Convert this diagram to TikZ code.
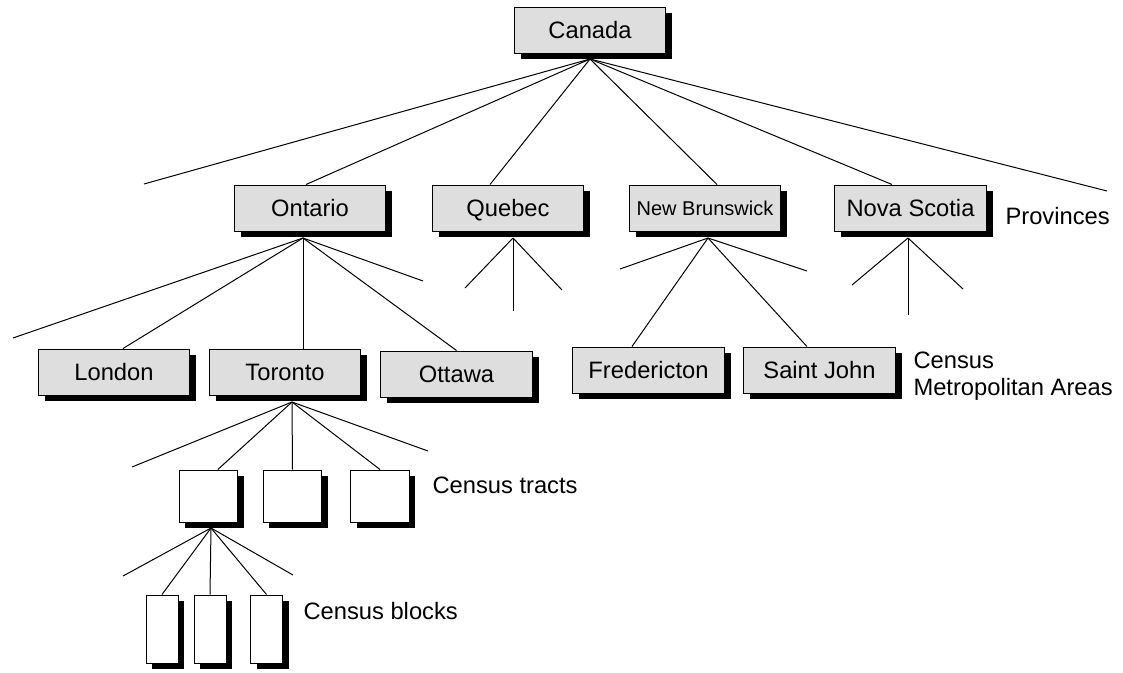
\documentclass[tikz,border=0pt]{standalone}
\usepackage{fontspec}
\setmainfont{Liberation Sans}
\usetikzlibrary{shadows}
\definecolor{boxgray}{RGB}{222,222,222}

\begin{document}
\begin{tikzpicture}[x=0.75pt, y=-0.75pt, line width=0.75pt]
  \tikzset{
    gray_node/.style={rectangle, fill=boxgray, draw, line width=0.75pt, inner sep=0pt, minimum width=113.5pt, minimum height=34.5pt, text height=12.7pt, text depth=0pt, font=\fontsize{17.8}{21}\selectfont, drop shadow={shadow xshift=4.8pt, shadow yshift=-4.8pt, opacity=1, fill=black}},
    tract_node/.style={rectangle, fill=white, draw, line width=0.75pt, inner sep=0pt, minimum width=44pt, minimum height=39pt, drop shadow={shadow xshift=4.5pt, shadow yshift=-4.5pt, opacity=1, fill=black}},
    block_node/.style={rectangle, fill=white, draw, line width=0.75pt, inner sep=0pt, minimum width=24pt, minimum height=51pt, drop shadow={shadow xshift=4.5pt, shadow yshift=-4.5pt, opacity=1, fill=black}},
    level_label/.style={anchor=west, align=left, inner sep=0pt, font=\fontsize{17.8}{20.25}\selectfont}
  }
  \useasboundingbox (0,0) rectangle (1123,672);

  % Nivel del país
  \node[gray_node] (canada) at (590,30) {Canada};

  % Provincias
  \node[gray_node] (ontario) at (310,208) {Ontario};
  \node[gray_node] (quebec) at (508,208) {Quebec};
  \node[gray_node, font=\fontsize{15}{18}\selectfont, text height=10.7pt] (nb) at (705,208) {New Brunswick};
  \node[gray_node] (ns) at (910.5,208) {Nova Scotia};

  % Áreas metropolitanas
  \node[gray_node] (london) at (114,372) {London};
  \node[gray_node] (toronto) at (285,372) {Toronto};
  \node[gray_node] (ottawa) at (456.5,374) {Ottawa};
  \node[gray_node] (fredericton) at (648.5,370) {Fredericton};
  \node[gray_node] (saintjohn) at (819.5,370) {Saint John};

  % Sectores censales (cajas vacías)
  \node[tract_node] (tract1) at (208.5,496) {};
  \node[tract_node] (tract2) at (292.5,496) {};
  \node[tract_node] (tract3) at (380,496) {};

  % Manzanas censales
  \node[block_node] (block1) at (162,629) {};
  \node[block_node] (block2) at (210,629) {};
  \node[block_node] (block3) at (266.5,629) {};

  % Etiquetas de nivel
  \node[level_label] (prov_lbl) at (1005,216) {Provinces};
  \node[level_label] (cma_lbl) at (913,376) {Census\\Metropolitan Areas};
  \node[level_label] (tract_lbl) at (432,485) {Census tracts};
  \node[level_label] (block_lbl) at (303,611) {Census blocks};

  % Puntos de salida de los abanicos
  \coordinate (canada_f) at (590,59);
  \coordinate (ontario_f) at (303,238);
  \coordinate (quebec_f) at (513,238);
  \coordinate (nb_f) at (708,238);
  \coordinate (ns_f) at (908,238);
  \coordinate (toronto_f) at (292,402);
  \coordinate (tract_f) at (211,528);

  % Extremos libres
  \coordinate (canada_l) at (144,184);
  \coordinate (canada_r) at (1107,191);
  \coordinate (ontario_l) at (13,338);
  \coordinate (ontario_r) at (423,281);
  \coordinate (quebec_l) at (465,288);
  \coordinate (quebec_m) at (513,311);
  \coordinate (quebec_r) at (562,290);
  \coordinate (nb_l) at (620,269);
  \coordinate (nb_r) at (807,271);
  \coordinate (ns_l) at (852,285);
  \coordinate (ns_m) at (908,315);
  \coordinate (ns_r) at (963,289);
  \coordinate (toronto_l) at (132,467);
  \coordinate (toronto_r) at (428,451);
  \coordinate (tract_l) at (123,576);
  \coordinate (tract_r) at (293,575);

  % Aristas desde Canada
  \draw (canada_f) -- (canada_l);
  \draw (canada_f) -- ([xshift=-3pt]ontario.north);
  \draw (canada_f) -- ([xshift=-13.5pt]quebec.north);
  \draw (canada_f) -- ([xshift=9pt]nb.north);
  \draw (canada_f) -- ([xshift=-13.9pt]ns.north);
  \draw (canada_f) -- (canada_r);

  % Aristas desde Ontario
  \draw (ontario_f) -- (ontario_l);
  \draw (ontario_f) -- ([xshift=6.75pt]london.north);
  \draw (ontario_f) -- ([xshift=13.5pt]toronto.north);
  \draw (ontario_f) -- (ottawa.north);
  \draw (ontario_f) -- (ontario_r);

  % Aristas desde Quebec
  \draw (quebec_f) -- (quebec_l);
  \draw (quebec_f) -- (quebec_m);
  \draw (quebec_f) -- (quebec_r);

  % Aristas desde New Brunswick
  \draw (nb_f) -- (nb_l);
  \draw (nb_f) -- ([xshift=-12.4pt]fredericton.north);
  \draw (nb_f) -- ([xshift=-9.4pt]saintjohn.north);
  \draw (nb_f) -- (nb_r);

  % Aristas desde Nova Scotia
  \draw (ns_f) -- (ns_l);
  \draw (ns_f) -- (ns_m);
  \draw (ns_f) -- (ns_r);

  % Aristas desde Toronto
  \draw (toronto_f) -- (toronto_l);
  \draw (toronto_f) -- ([xshift=7pt]tract1.north);
  \draw (toronto_f) -- (tract2.north);
  \draw (toronto_f) -- (tract3.north);
  \draw (toronto_f) -- (toronto_r);

  % Aristas desde el primer sector
  \draw (tract_f) -- (tract_l);
  \draw (tract_f) -- (block1.north);
  \draw (tract_f) -- (block2.north);
  \draw (tract_f) -- (block3.north);
  \draw (tract_f) -- (tract_r);
\end{tikzpicture}
\end{document}
